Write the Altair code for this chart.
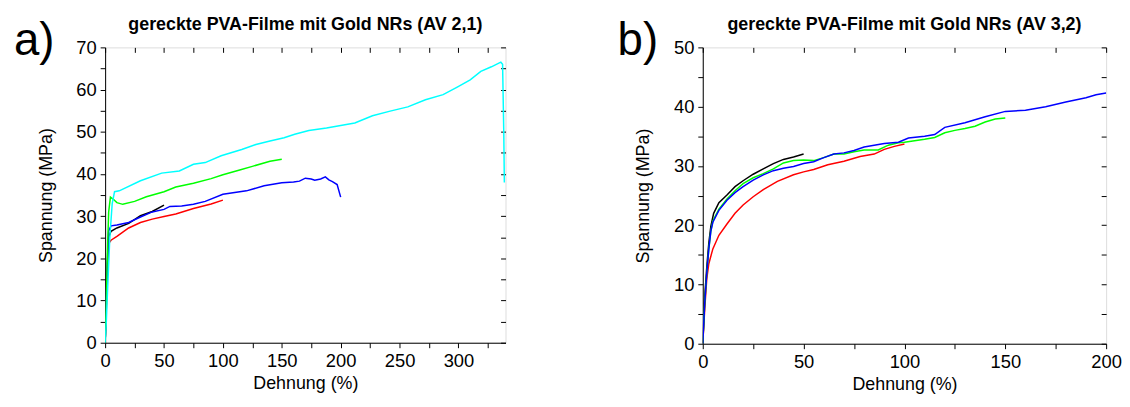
import altair as alt
import pandas as pd

FONT = "Liberation Sans"

# ---------------- Panel a: AV 2,1 ----------------
a_red_x = [0, 1, 2, 3, 5, 10, 15, 20, 30, 40, 50, 60, 75, 90, 100]
a_red_y = [0, 8, 17, 23.5, 24.3, 25.2, 26.2, 27.2, 28.5, 29.3, 29.9, 30.5, 31.8, 32.9, 33.8]

a_black_x = [0, 1, 2, 3, 5, 10, 20, 30, 40, 50]
a_black_y = [0, 9, 19, 25, 26.4, 27.2, 28.3, 30.1, 31.1, 32.6]

a_blue_x = [0, 1, 2, 3, 5, 10, 20, 30, 40, 50, 55, 65, 75, 85, 100, 120, 135, 150, 160,
            165, 170, 175, 178, 183, 187, 190, 193, 197, 200]
a_blue_y = [0, 10, 20, 26.5, 27.7, 27.9, 28.5, 29.8, 31, 31.6, 32.3, 32.4, 32.8, 33.5, 35.2,
            36, 37.2, 37.9, 38.1, 38.3, 39, 38.8, 38.5, 38.8, 39.3, 38.6, 38.2, 37.5, 34.5]

a_green_x = [0, 1, 2, 3, 4.5, 7, 10, 15, 25, 35, 50, 60, 75, 90, 100, 115, 125, 140, 150]
a_green_y = [0, 10, 22, 31, 34.5, 34, 33.2, 32.8, 33.5, 34.6, 35.8, 36.9, 37.8, 38.9, 39.8,
             41, 41.8, 43, 43.5]

a_cyan_x = [0, 1, 2, 4, 6, 8, 12, 30, 48, 63, 75, 85, 98.5, 116, 128, 140, 152, 161, 173,
            188, 200, 212, 227, 242, 257, 272, 287, 299, 310, 319, 328, 336, 337.5, 338.5, 339]
a_cyan_y = [0, 5, 12, 25, 33, 35.8, 36, 38.4, 40.2, 40.7, 42.3, 42.7, 44.3, 45.8, 47, 47.8,
            48.6, 49.4, 50.3, 50.9, 51.5, 52.1, 53.8, 54.9, 55.9, 57.6, 58.8, 60.6, 62.3,
            64.3, 65.4, 66.5, 66, 50, 38]

# ---------------- Panel b: AV 3,2 ----------------
b_red_x = [0, 0.5, 1, 2, 3, 5, 8, 12, 16, 20, 25, 30, 37, 45, 50, 55, 62, 70, 78, 85, 90, 95, 100]
b_red_y = [0, 3, 6, 11, 13.5, 16, 18.3, 20.2, 22, 23.4, 24.8, 26, 27.4, 28.5, 29, 29.4, 30.2,
           30.8, 31.6, 32, 32.8, 33.3, 33.7]

b_black_x = [0, 0.5, 1, 2, 3, 4, 5.4, 8, 12, 16, 20, 25, 30, 35, 40, 45, 50]
b_black_y = [0, 4, 8, 13, 17, 19.8, 22, 23.8, 25.1, 26.5, 27.5, 28.6, 29.5, 30.4, 31.1, 31.5, 32]

b_green_x = [0, 1, 2, 3, 4, 5, 8, 12, 16, 20, 25, 30, 35, 40, 45, 50, 55, 60, 65, 70, 75, 80,
             87, 92, 97, 100, 110, 115, 120, 125, 130, 135, 140, 145, 150]
b_green_y = [0, 7, 12, 16, 19, 20.7, 22.7, 24.4, 25.8, 27, 28, 28.7, 29.5, 30.5, 30.9, 31,
             30.9, 31.4, 32, 32, 32.4, 32.7, 32.7, 33.5, 33.9, 34, 34.5, 34.8, 35.6, 36, 36.3,
             36.7, 37.4, 37.9, 38.1]

b_blue_x = [0, 1, 2, 3, 4, 5, 8, 12, 16, 20, 25, 30, 35, 40, 45, 50, 55, 60, 65, 70, 75, 80,
            85, 90, 97, 102, 110, 115, 120, 130, 140, 150, 160, 170, 180, 190, 195, 200]
b_blue_y = [0, 7, 12, 16, 19, 20.5, 22.5, 24.2, 25.5, 26.5, 27.6, 28.5, 29.2, 29.6, 29.9,
            30.4, 30.7, 31.4, 32, 32.2, 32.6, 33.2, 33.5, 33.8, 34, 34.7, 35, 35.3, 36.5,
            37.3, 38.3, 39.2, 39.4, 40, 40.8, 41.5, 42, 42.3]

series_names = ["red", "black", "blue", "green", "cyan"]
series_colors = ["#ff0000", "#000000", "#0000ff", "#00ff00", "#00ffff"]

titles = ["gereckte PVA-Filme mit Gold NRs (AV 2,1)", "gereckte PVA-Filme mit Gold NRs (AV 3,2)"]
panel_labels = ["a)", "b)"]


def make_df(items):
    rows = []
    for name, xs, ys in items:
        for i, (x, y) in enumerate(zip(xs, ys)):
            rows.append({"s": name, "x": x, "y": y, "i": i})
    return pd.DataFrame(rows)


df_a = make_df([("red", a_red_x, a_red_y), ("black", a_black_x, a_black_y),
                ("blue", a_blue_x, a_blue_y), ("green", a_green_x, a_green_y),
                ("cyan", a_cyan_x, a_cyan_y)])
df_b = make_df([("red", b_red_x, b_red_y), ("black", b_black_x, b_black_y),
                ("green", b_green_x, b_green_y), ("blue", b_blue_x, b_blue_y)])


def panel(df, title, label, xmax, ymax, w, h, label_dx):
    xvals = list(range(0, int(xmax) + 1, 25))
    yvals = list(range(0, ymax + 1, 5))
    xs = alt.Scale(domain=[0, xmax], nice=False, zero=False)
    ys = alt.Scale(domain=[0, ymax], nice=False, zero=False)
    common = dict(labelFont=FONT, labelFontSize=18.5, labelColor="#000", titleFont=FONT,
                  titleFontSize=18, titleFontWeight="normal", titleColor="#000",
                  domainColor="#000", tickColor="#000", tickSize=5, grid=False,
                  labelFlush=False, labelOverlap=False)
    lines = alt.Chart(df).mark_line(strokeWidth=1.5, clip=True).encode(
        x=alt.X("x:Q", scale=xs, axis=alt.Axis(
            values=xvals, labelExpr="datum.value % 50 == 0 ? datum.label : ''",
            title="Dehnung (%)", labelPadding=4, titlePadding=5, **common)),
        y=alt.Y("y:Q", scale=ys, axis=alt.Axis(
            values=yvals, labelExpr="datum.value % 10 == 0 ? datum.label : ''",
            title="Spannung (MPa)", labelPadding=4, titlePadding=21, **common)),
        color=alt.Color("s:N", scale=alt.Scale(domain=series_names, range=series_colors),
                        legend=None),
        detail="s:N",
        order="i:Q",
    )
    mirror = alt.Chart(df).mark_point(opacity=0).encode(
        x=alt.X("x:Q", scale=xs, axis=alt.Axis(
            orient="top", values=xvals, labels=False, domain=False, title=None,
            offset=-5, tickSize=5, tickColor="#000", grid=False)),
        y=alt.Y("y:Q", scale=ys, axis=alt.Axis(
            orient="right", values=yvals, labels=False, domain=False, title=None,
            offset=-5, tickSize=5, tickColor="#000", grid=False)),
    )
    lab = alt.Chart(pd.DataFrame({"t": [label]})).mark_text(
        align="left", baseline="alphabetic", fontSize=46, font=FONT, color="#000"
    ).encode(x=alt.value(label_dx), y=alt.value(8), text="t:N")
    ttl = alt.Chart(pd.DataFrame({"t": [title]})).mark_text(
        align="center", baseline="alphabetic", fontSize=18, fontWeight="bold",
        font=FONT, color="#000"
    ).encode(x=alt.value(w / 2), y=alt.value(-18), text="t:N")
    return alt.layer(lines, mirror, lab, ttl).resolve_scale(
        x="independent", y="independent"
    ).properties(width=w, height=h)


pa = panel(df_a, titles[0], panel_labels[0], 340, 70, 404, 298, -92)
pb = panel(df_b, titles[1], panel_labels[1], 200, 50, 407, 299, -86)

chart = alt.hconcat(pa, pb, spacing=109).configure_view(
    stroke="#000", strokeWidth=1
).configure(background="white").properties(
    padding={"left": 5, "top": 5, "right": 0, "bottom": 0}
)

chart.save("out.html", embed_options={"renderer": "svg", "actions": False})
